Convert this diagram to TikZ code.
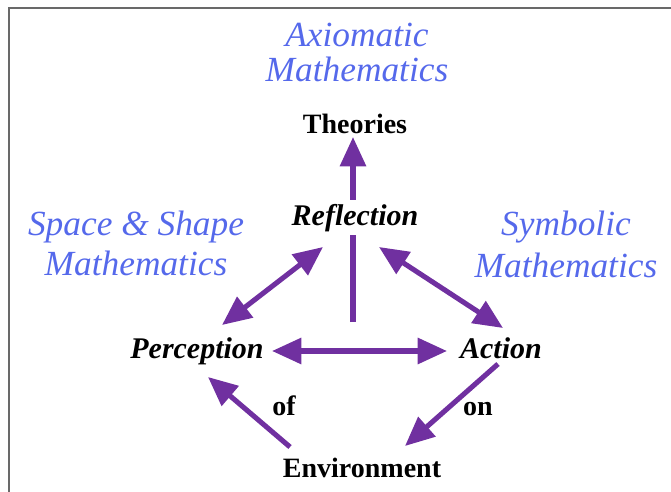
\documentclass[tikz,border=0pt]{standalone}
\usepackage{fontspec}
\setmainfont{Liberation Serif}
\usetikzlibrary{arrows.meta,calc,backgrounds}
\definecolor{mblue}{RGB}{85,105,235}
\definecolor{mpurple}{RGB}{112,48,160}
\definecolor{frame}{RGB}{105,105,105}
\tikzset{
  bluelbl/.style={text=mblue, font=\fontsize{26.5}{40}\selectfont\itshape, align=center, inner sep=0pt, anchor=base},
  blk/.style={font=\fontsize{21}{24}\selectfont\bfseries, inner sep=0pt, anchor=base},
  blkit/.style={font=\fontsize{22.5}{26}\selectfont\bfseries\itshape, inner sep=0pt, anchor=base},
  arr/.style={draw=mpurple, line width=3.8pt, -{Triangle[length=22pt,width=19pt]}},
  dbl/.style={draw=mpurple, line width=3.8pt, {Triangle[length=22pt,width=19pt]}-{Triangle[length=22pt,width=19pt]}},
}
\begin{document}
\begin{tikzpicture}[x=0.75pt,y=-0.75pt]
\useasboundingbox (0,0) rectangle (671,492);
\draw[frame, line width=1.6pt] (9,493) -- (9,8) -- (672,8);

% blue labels (base = baseline of the last line)
\node[bluelbl, font=\fontsize{26.5}{26.5}\selectfont\itshape] (axm) at (357,82) {Axiomatic\\Mathematics};
\node[bluelbl, font=\fontsize{26.5}{29.5}\selectfont\itshape] (ssm) at (136,275) {Space \& Shape\\Mathematics};
\node[bluelbl, font=\fontsize{26.5}{31}\selectfont\itshape] (sym) at (566,277) {Symbolic\\Mathematics};

% black labels
\node[blk] (theo) at (355,133) {Theories};
\node[blkit, fill=white, inner sep=3pt] (refl) at (355,225) {Reflection};
\node[blkit] (perc) at (197,358) {Perception};
\node[blkit] (act) at (501,358) {Action};
\node[blk] (env) at (362,477) {Environment};
\node[blk] (of) at (284,415) {of};
\node[blk] (on) at (478,415) {on};

% vertical arrow behind Reflection
\begin{scope}[on background layer]
\draw[arr] ($(refl.base)+(-2,97)$) -- ($(theo.base)+(-2,4)$);
\end{scope}

% connectors
\draw[dbl] ($(refl.base)+(-32,22)$) -- ($(perc.base)+(25,-33)$);
\draw[dbl] ($(refl.base)+(24,22)$) -- ($(act.base)+(2,-30)$);
\draw[dbl] ($(perc.base)+(75,-7)$) -- ($(act.base)+(-54,-7)$);
\draw[arr] ($(env.base)+(-72,-30)$) -- ($(perc.base)+(11,19)$);
\draw[arr] ($(act.base)+(-3,6)$) -- ($(env.base)+(43,-31)$);
\end{tikzpicture}
\end{document}
